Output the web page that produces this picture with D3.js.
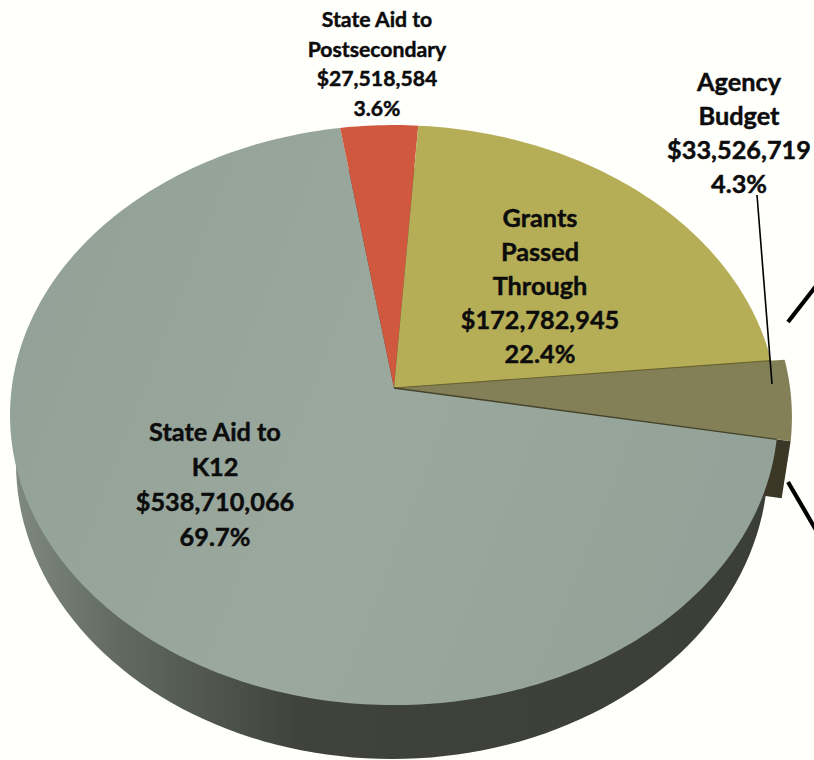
<!DOCTYPE html>
<html>
<head>
<meta charset="utf-8">
<script src="https://cdn.jsdelivr.net/npm/d3@7"></script>
<style>
html,body{margin:0;padding:0;background:#fffffc;}
svg{display:block;}
text{font-family:Lato,"Open Sans",sans-serif;font-weight:700;fill:#0c0c0c;stroke:#0c0c0c;stroke-width:0.45;text-anchor:middle;}
</style>
</head>
<body>
<svg id="chart" width="814" height="760"></svg>
<script>
const categories = ["State Aid to Postsecondary","Grants Passed Through","Agency Budget","State Aid to K12"];
const values = [27518584,172782945,33526719,538710066];
const labelLines = [["State Aid to","Postsecondary"],["Grants","Passed","Through"],["Agency","Budget"],["State Aid to","K12"]];
const sliceColors = ["#cf583f","#b6ae57","#838058","url(#k12Top)"];

/* layout */
const W=814,H=760;
const apex={x:394,y:388};
const persp=-0.0934;
const startDeg=-8.85;
const explode={"Agency Budget":1.036};
const wall={cx:392,cy:463,rx:376,ry:296};
const labelPos=[
 {x:377,y:19,size:21.2,lh:29.5},
 {x:540,y:217,size:25.3,lh:34},
 {x:739,y:81,size:25.3,lh:34},
 {x:215,y:431,size:25.3,lh:35}
];

const svg=d3.select("#chart");
const defs=svg.append("defs");
const g1=defs.append("linearGradient").attr("id","wallGrad").attr("gradientUnits","userSpaceOnUse")
 .attr("x1",15).attr("x2",794).attr("y1",0).attr("y2",0);
[[0,"#7f897f"],[0.06,"#727b71"],[0.13,"#626a61"],[0.25,"#50564d"],[0.36,"#3f433c"],[1,"#3a3e37"]]
 .forEach(s=>g1.append("stop").attr("offset",s[0]).attr("stop-color",s[1]));
const g2=defs.append("linearGradient").attr("id","k12Top").attr("gradientUnits","userSpaceOnUse")
 .attr("x1",10).attr("x2",780).attr("y1",200).attr("y2",500);
[[0,"#92a197"],[0.5,"#9aa89d"],[1,"#93a298"]]
 .forEach(s=>g2.append("stop").attr("offset",s[0]).attr("stop-color",s[1]));

const sx=d3.scaleLinear().domain([-1,1]).range([apex.x-382.3,apex.x+382.3]);
const sy=d3.scaleLinear().domain([-1,1]).range([apex.y-287.5,apex.y+287.5]);
function project(a,r){
  const u=Math.sin(a)*r, v=-Math.cos(a)*r, d=1+persp*v;
  return [sx(u/d),sy(v/d)];
}
const pie=d3.pie().sort(null).startAngle(startDeg*Math.PI/180).endAngle(startDeg*Math.PI/180+2*Math.PI);
const arcs=pie(values);
const line=d3.line();
function wedge(d,r){
  const n=Math.max(2,Math.ceil((d.endAngle-d.startAngle)*60));
  const t=d3.scaleLinear().domain([0,n]).range([d.startAngle,d.endAngle]);
  const pts=[project(0,0)];
  d3.range(n+1).forEach(i=>pts.push(project(t(i),r)));
  return line(pts)+"Z";
}

/* side wall of the disc */
const wallPts=d3.range(0,361,2).map(k=>{
  const a=k*Math.PI/180;
  return [wall.cx+wall.rx*Math.sin(a),wall.cy-wall.ry*Math.cos(a)];
});
svg.append("path").attr("d",line(wallPts)+"Z").attr("fill","url(#wallGrad)");

/* side face of the pulled-out slice */
const ag=arcs[2];
const agR=explode[categories[2]];
const depth=[-9,57];
const c0=project(ag.endAngle,agR), c1=project(ag.endAngle,0.985);
svg.append("path")
 .attr("d",line([c0,[c0[0]+depth[0],c0[1]+depth[1]],[c1[0]+depth[0],c1[1]+depth[1]],c1])+"Z")
 .attr("fill","#3b3726");

/* top faces */
const order=[3,0,1,2];
svg.selectAll("path.slice").data(order).join("path").attr("class","slice")
 .attr("d",i=>wedge(arcs[i],explode[categories[i]]||1))
 .attr("fill",i=>sliceColors[i]);

/* seams */
svg.append("path").attr("d",line([project(0,0),project(ag.startAngle,1)]))
 .attr("stroke","#6a6530").attr("stroke-width",1.2).attr("fill","none");
svg.append("path").attr("d",line([project(0,0),project(ag.endAngle,1.0)]))
 .attr("stroke","#45432b").attr("stroke-width",1.4).attr("fill","none");

/* leader and callout strokes */
const leader=[[757,195],[772,384]];
const callouts=[[[788,322],[816,286]],[[788,482],[816,530]]];
svg.append("path").attr("d",line(leader)).attr("stroke","#000").attr("stroke-width",1.6).attr("fill","none");
callouts.forEach(c=>svg.append("path").attr("d",line(c)).attr("stroke","#000").attr("stroke-width",4.2).attr("fill","none"));

/* labels */
const money=d3.format("$,"), pct=d3.format(".1%");
const total=d3.sum(values);
labelLines.forEach((lines,i)=>{
  const p=labelPos[i];
  const all=[...lines,money(values[i]),pct(values[i]/total)];
  const t=svg.append("text").attr("font-size",p.size).attr("dominant-baseline","central");
  all.forEach((s,j)=>t.append("tspan").attr("x",p.x).attr("y",p.y+j*p.lh).text(s));
});
</script>
</body>
</html>
